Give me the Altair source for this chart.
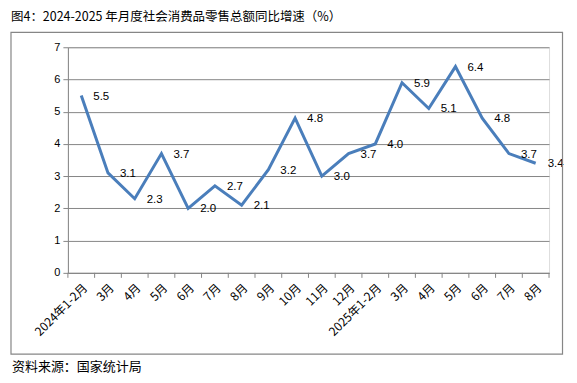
import altair as alt
import pandas as pd

periods = ["2024年1-2月", "2024年3月", "2024年4月", "2024年5月", "2024年6月", "2024年7月",
           "2024年8月", "2024年9月", "2024年10月", "2024年11月", "2024年12月",
           "2025年1-2月", "2025年3月", "2025年4月", "2025年5月", "2025年6月", "2025年7月", "2025年8月"]
growth = [5.5, 3.1, 2.3, 3.7, 2.0, 2.7, 2.1, 3.2, 4.8, 3.0, 3.7,
          4.0, 5.9, 5.1, 6.4, 4.8, 3.7, 3.4]
y_ticks = [0, 1, 2, 3, 4, 5, 6, 7]

title_text = "图4：2024-2025 年月度社会消费品零售总额同比增速（%）"
source_text = "资料来源：国家统计局"

df = pd.DataFrame({"period": periods, "value": growth})

GRAY = "#868686"
CJK = "Noto Sans CJK SC"
LAT = "Liberation Sans"
W, H = 482, 226
STEP = W / len(periods)

x_axis = alt.Axis(
    title=None,
    labelExpr="indexof(datum.value, '1-2') >= 0 ? datum.value : slice(datum.value, 5)",
    labelAngle=-45, labelAlign="right", labelBaseline="top", labelPadding=9,
    labelFont=CJK, labelFontSize=12, labelColor="#000000",
    ticks=False, domainColor=GRAY, grid=False, labelOverlap=False,
)
y_axis = alt.Axis(
    title=None, values=y_ticks, grid=True, gridColor=GRAY, gridWidth=1,
    tickSize=5, tickColor=GRAY, domainColor=GRAY,
    labelFont=LAT, labelFontSize=11, labelColor="#000000", labelPadding=3,
)
x_enc = alt.X("period:N", sort=None, scale=alt.Scale(type="point", padding=0.5), axis=x_axis)
y_enc = alt.Y("value:Q", scale=alt.Scale(domain=[0, 7], nice=False), axis=y_axis)

base = alt.Chart(df)
line = base.mark_line(color="#4A7EBB", strokeWidth=3).encode(x=x_enc, y=y_enc)
labels = base.mark_text(dx=20, dy=1, align="center", baseline="middle",
                        font=LAT, fontSize=11.5, color="#000000").encode(
    x=x_enc, y=y_enc, text=alt.Text("value:Q", format=".1f"),
)
# category boundary tick marks (Excel style), offset half a category to the left
ticks = base.mark_rule(color=GRAY, strokeWidth=1, xOffset=-STEP / 2).encode(
    x=x_enc, y=alt.value(H), y2=alt.value(H + 5),
)
end_tick = alt.Chart(pd.DataFrame({"f": [0]})).mark_rule(color=GRAY, strokeWidth=1).encode(
    x=alt.value(W), y=alt.value(H), y2=alt.value(H + 5),
)
frame = alt.Chart(pd.DataFrame({"f": [0]})).mark_rect(
    fillOpacity=0, stroke=GRAY, strokeWidth=1.2
).encode(x=alt.value(-57), x2=alt.value(495.5), y=alt.value(-15), y2=alt.value(307.5))
source = alt.Chart(pd.DataFrame({"t": [source_text]})).mark_text(
    align="left", baseline="middle", font=CJK, fontSize=13, color="#000000"
).encode(x=alt.value(-56), y=alt.value(320), text="t:N")

chart = alt.layer(line, labels, ticks, end_tick, frame, source).properties(
    width=W, height=H,
    autosize=alt.AutoSizeParams(type="none"),
    padding={"left": 60, "top": 39, "right": 20, "bottom": 102},
    title=alt.TitleParams(
        text=title_text, anchor="start", frame="group", dx=-57, offset=8,
        font=CJK, fontSize=12.5, fontWeight="normal", color="#000000",
    ),
).configure_view(stroke=None).configure(background="white")

chart.save("out.html", embed_options={"renderer": "svg", "actions": False})
